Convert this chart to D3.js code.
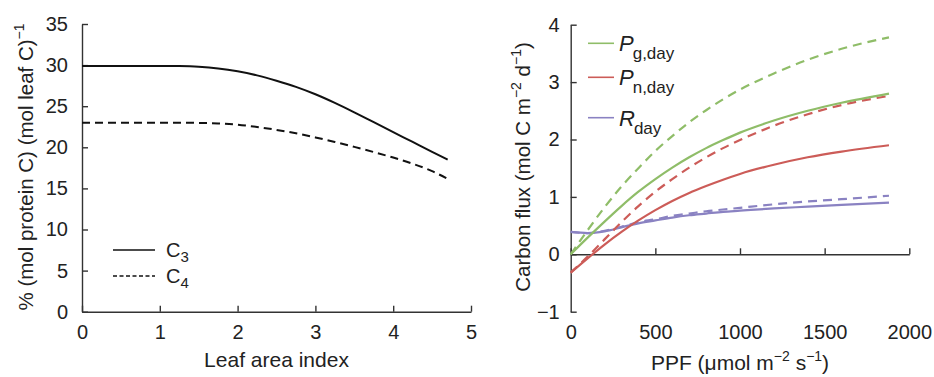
<!DOCTYPE html>
<html>
<head>
<meta charset="utf-8">
<script src="https://cdn.jsdelivr.net/npm/d3@7"></script>
<style>
  html, body { margin: 0; padding: 0; background: #fff; }
  svg { display: block; font-family: "Liberation Sans", Arial, sans-serif; }
  .axis path, .axis line { stroke: #333; stroke-width: 1.4; }
  .axis text { font-size: 20px; fill: #222; font-family: "Liberation Sans", Arial, sans-serif; }
</style>
</head>
<body>
<svg id="chart" width="934" height="377"></svg>
<script>
// left panel: leaf protein fraction vs leaf area index
const laiX = [0, 0.5, 1, 1.25, 1.5, 1.75, 2, 2.25, 2.5, 2.75, 3, 3.25, 3.5, 3.75, 4, 4.25, 4.5, 4.7];
const proteinC3 = [29.9, 29.9, 29.9, 29.88, 29.8, 29.6, 29.25, 28.75, 28.1, 27.35, 26.45, 25.4, 24.25, 23.05, 21.85, 20.65, 19.45, 18.5];
const proteinC4 = [23.0, 23.0, 23.0, 23.0, 22.97, 22.9, 22.75, 22.47, 22.12, 21.7, 21.2, 20.65, 20.05, 19.42, 18.75, 18.0, 17.1, 16.15];
const leftXTicks = [0, 1, 2, 3, 4, 5];
const leftYTicks = [0, 5, 10, 15, 20, 25, 30, 35];

// right panel: daily carbon fluxes vs PPF (solid = C3, dashed = C4)
const ppfX = [0, 100, 200, 300, 400, 500, 600, 700, 800, 900, 1000, 1200, 1400, 1600, 1880];
const pgC3 = [0, 0.29, 0.57, 0.84, 1.09, 1.31, 1.51, 1.69, 1.85, 1.99, 2.12, 2.33, 2.50, 2.64, 2.80];
const pgC4 = [0, 0.42, 0.82, 1.18, 1.50, 1.80, 2.06, 2.30, 2.51, 2.70, 2.87, 3.15, 3.39, 3.58, 3.78];
const pnC3 = [-0.32, -0.07, 0.17, 0.39, 0.59, 0.77, 0.93, 1.07, 1.19, 1.30, 1.40, 1.56, 1.69, 1.79, 1.90];
const pnC4 = [-0.32, -0.04, 0.26, 0.56, 0.84, 1.09, 1.31, 1.51, 1.69, 1.85, 1.99, 2.24, 2.44, 2.60, 2.76];
const rdC3 = [0.39, 0.37, 0.40, 0.47, 0.54, 0.59, 0.64, 0.68, 0.71, 0.74, 0.76, 0.80, 0.83, 0.86, 0.90];
const rdC4 = [0.39, 0.37, 0.41, 0.48, 0.56, 0.61, 0.67, 0.71, 0.75, 0.78, 0.81, 0.87, 0.92, 0.96, 1.02];
const rightXTicks = [0, 500, 1000, 1500, 2000];
const rightYTicks = [-1, 0, 1, 2, 3, 4];

const fluxLabels = [
  { main: 'P', sub: 'g,day' },
  { main: 'P', sub: 'n,day' },
  { main: 'R', sub: 'day' },
];
const fluxColors = ['#8fbd68', '#cc5c58', '#8a82c2'];

const svg = d3.select('#chart');

// ---------- left panel ----------
const xL = d3.scaleLinear().domain([0, 5]).range([82, 471]);
const yL = d3.scaleLinear().domain([0, 35]).range([311.7, 24]);

svg.append('g')
  .attr('class', 'axis')
  .attr('transform', `translate(0,${yL(0)})`)
  .call(d3.axisBottom(xL).tickValues(leftXTicks).tickFormat(d3.format('d'))
    .tickSize(-6).tickSizeOuter(0).tickPadding(13));

svg.append('g')
  .attr('class', 'axis')
  .attr('transform', `translate(${xL(0)},0)`)
  .call(d3.axisLeft(yL).tickValues(leftYTicks).tickFormat(d3.format('d'))
    .tickSize(-6).tickSizeOuter(0).tickPadding(14));

const lineL = (ys) => d3.line()
  .x((d, i) => xL(laiX[i]))
  .y((d) => yL(d))
  .curve(d3.curveMonotoneX)(ys);

svg.append('path').attr('d', lineL(proteinC3))
  .attr('fill', 'none').attr('stroke', '#111').attr('stroke-width', 2);
svg.append('path').attr('d', lineL(proteinC4))
  .attr('fill', 'none').attr('stroke', '#111').attr('stroke-width', 2)
  .attr('stroke-dasharray', '8,5');

// legend (C3 / C4)
[['3', null, 250, 257], ['4', '4,2.5', 276, 283]].forEach(([n, dash, ly, by]) => {
  const l = svg.append('line')
    .attr('x1', 113).attr('x2', 155).attr('y1', ly).attr('y2', ly)
    .attr('stroke', '#111').attr('stroke-width', 1.6);
  if (dash) l.attr('stroke-dasharray', dash);
  const t = svg.append('text').attr('x', 166).attr('y', by)
    .style('font-size', '20px').attr('fill', '#222');
  t.append('tspan').text('C');
  t.append('tspan').attr('dy', 5).style('font-size', '15px').text(n);
});

// axis titles
svg.append('text')
  .attr('x', xL(2.5) + 0).attr('y', 367)
  .attr('text-anchor', 'middle')
  .style('font-size', '21px').attr('fill', '#222')
  .text('Leaf area index');

const yTitleL = svg.append('text')
  .attr('transform', 'translate(33,167) rotate(-90)')
  .attr('text-anchor', 'middle')
  .style('font-size', '20.5px').attr('fill', '#222');
yTitleL.append('tspan').text('% (mol protein C) (mol leaf C)');
yTitleL.append('tspan').attr('dy', -9).style('font-size', '14px').text('\u22121');

// ---------- right panel ----------
const xR = d3.scaleLinear().domain([0, 2000]).range([570.7, 909.3]);
const yR = d3.scaleLinear().domain([-1, 4]).range([311.7, 24.7]);

svg.append('g')
  .attr('class', 'axis')
  .attr('transform', `translate(0,${yR(0)})`)
  .call(d3.axisBottom(xR).tickValues(rightXTicks).tickFormat(d3.format('d'))
    .tickSize(-6).tickSizeOuter(0).tickPadding(yR(-1) - yR(0) + 13));

svg.append('g')
  .attr('class', 'axis')
  .attr('transform', `translate(${xR(0)},0)`)
  .call(d3.axisLeft(yR).tickValues(rightYTicks).tickSize(-6).tickSizeOuter(0).tickPadding(11)
    .tickFormat((v) => (v < 0 ? '\u2212' + Math.abs(v) : v)));

const lineR = (ys) => d3.line()
  .x((d, i) => xR(ppfX[i]))
  .y((d) => yR(d))
  .curve(d3.curveMonotoneX)(ys);

const fluxSeries = [
  [pgC3, pgC4],
  [pnC3, pnC4],
  [rdC3, rdC4],
];

// draw purple first so green/red sit on top as in the reference
[2, 1, 0].forEach((k) => {
  const [solid, dashed] = fluxSeries[k];
  svg.append('path').attr('d', lineR(dashed))
    .attr('fill', 'none').attr('stroke', fluxColors[k]).attr('stroke-width', 2.2)
    .attr('stroke-dasharray', '9,6');
  svg.append('path').attr('d', lineR(solid))
    .attr('fill', 'none').attr('stroke', fluxColors[k]).attr('stroke-width', 2.2);
});

// legend
const legY = [43.3, 77.3, 117.7];
fluxLabels.forEach((d, i) => {
  svg.append('line')
    .attr('x1', 588).attr('x2', 614).attr('y1', legY[i]).attr('y2', legY[i])
    .attr('stroke', fluxColors[i]).attr('stroke-width', 1.6);
  const t = svg.append('text').attr('x', 619).attr('y', legY[i] + 8)
    .style('font-size', '22px').attr('fill', '#222');
  t.append('tspan').style('font-style', 'italic').text(d.main);
  t.append('tspan').attr('dy', 8).attr('dx', -1).style('font-size', '17px').text(d.sub);
});

// axis titles
const xTitleR = svg.append('text')
  .attr('x', 740).attr('y', 370)
  .attr('text-anchor', 'middle')
  .style('font-size', '21px').attr('fill', '#222');
xTitleR.append('tspan').text('PPF (\u03bcmol m');
xTitleR.append('tspan').attr('dy', -9).style('font-size', '14px').text('\u22122');
xTitleR.append('tspan').attr('dy', 9).text(' s');
xTitleR.append('tspan').attr('dy', -9).style('font-size', '14px').text('\u22121');
xTitleR.append('tspan').attr('dy', 9).text(')');

const yTitleR = svg.append('text')
  .attr('transform', 'translate(530,167) rotate(-90)')
  .attr('text-anchor', 'middle')
  .style('font-size', '20.5px').attr('fill', '#222');
yTitleR.append('tspan').text('Carbon flux (mol C m');
yTitleR.append('tspan').attr('dy', -9).style('font-size', '14px').text('\u22122');
yTitleR.append('tspan').attr('dy', 9).text(' d');
yTitleR.append('tspan').attr('dy', -9).style('font-size', '14px').text('\u22121');
yTitleR.append('tspan').attr('dy', 9).text(')');
</script>
</body>
</html>
